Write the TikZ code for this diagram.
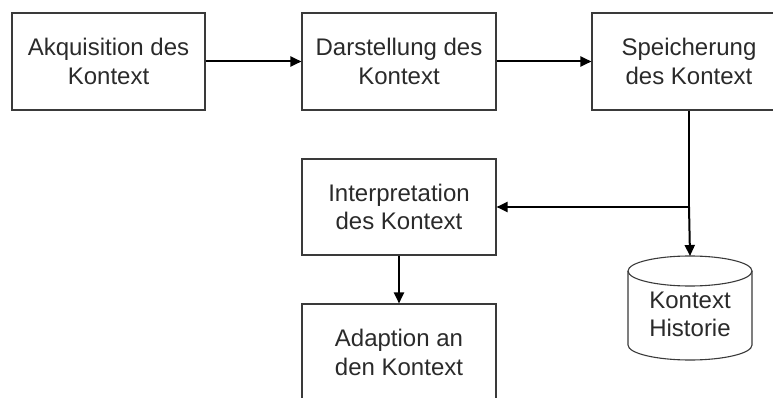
\documentclass[tikz,border=0pt]{standalone}
\usepackage{fontspec}
\setmainfont{Liberation Sans}
\usetikzlibrary{arrows.meta}
\definecolor{bordercol}{HTML}{3A3A3A}
\definecolor{textcol}{HTML}{2A2A2A}
\begin{document}
\begin{tikzpicture}[x=1pt,y=-1pt,
  box/.style={draw=bordercol,line width=1.1pt,minimum width=194pt,minimum height=97pt,inner sep=0pt,align=center,text=textcol,font=\fontsize{24}{28.5}\selectfont},
  lbl/.style={inner sep=0pt,align=center,text=textcol,font=\fontsize{24}{28.5}\selectfont},
  conn/.style={line width=2pt,black,-{Triangle[length=11pt,width=10pt]}},
  plain/.style={line width=2pt,black}]
\clip (0,0) rectangle (773,398);
\useasboundingbox (0,0) rectangle (773,398);
\node[box,minimum width=193pt] (acq) at (108.5,61.5) {Akquisition des\\Kontext};
\node[box] (dar) at (399,61.5) {Darstellung des\\Kontext};
\node[box] (spe) at (689,61.5) {Speicherung\\des Kontext};
\node[box,minimum height=96pt] (int) at (399,207) {Interpretation\\des Kontext};
\node[box] (ada) at (399,352.5) {Adaption an\\den Kontext};
% cylinder
\draw[draw=bordercol,line width=1.1pt,fill=white] (628,271) -- (628,345) arc[start angle=180,end angle=0,x radius=62,y radius=15] -- (752,271);
\draw[draw=bordercol,line width=1.1pt] (690,271) ellipse[x radius=62,y radius=15];
\coordinate (histtop) at (690,256);
\node[lbl] (hist) at (690,314.5) {Kontext\\Historie};
% connectors
\draw[conn] (acq.east) -- (dar.west);
\draw[conn] (dar.east) -- (spe.west);
\coordinate (j) at (spe.south |- int.east);
\draw[plain] (spe.south) -- (j);
\draw[conn] (j) -- (int.east);
\draw[conn] (j) -- (histtop);
\draw[conn] (int.south) -- (ada.north);
\end{tikzpicture}
\end{document}
